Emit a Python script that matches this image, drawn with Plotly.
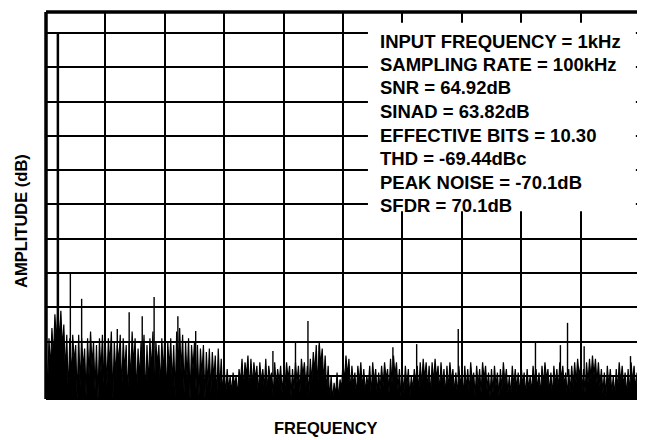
import plotly.graph_objects as go

# ---------------- data ----------------
bin_khz = 0.25            # spacing of noise bins along the frequency axis (kHz)

# noise-floor maxima per bin (dB), bins at 0, 0.25, 0.5 ... kHz
noise_tops = [
    -90, -89, -86, -82, -80, -81, -85, -88, -89, -88, -91, -88, -89, -92, -89, -87, -90, -91, -89, -88,
    -91, -89, -87, -90, -91, -88, -89, -91, -90, -87, -89, -92, -90, -88, -91, -89, -87, -90, -91, -89,
    -88, -90, -89, -91, -87, -86, -88, -90, -89, -91, -90, -91, -92, -91, -93, -92, -93, -94, -92, -95,
    -97, -98, -100, -99, -100, -98, -95, -96, -94, -95, -96, -97, -96, -98, -95, -97, -99, -96, -98, -97,
    -99, -96, -97, -98, -96, -97, -95, -96, -97, -95, -93, -91, -90, -92, -94, -97, -100, -102, -99, -101,
    -96, -94, -95, -97, -99, -97, -96, -98, -100, -97, -96, -98, -99, -97, -96, -98, -95, -94, -96, -98,
    -99, -97, -98, -100, -98, -97, -96, -95, -96, -97, -96, -95, -97, -96, -98, -97, -96, -98, -99, -97,
    -99, -97, -98, -96, -99, -97, -98, -96, -97, -99, -98, -97, -99, -98, -96, -98, -100, -97, -98, -99,
    -97, -99, -98, -100, -97, -98, -99, -97, -96, -98, -99, -97, -98, -96, -97, -99, -98, -97, -96, -95,
    -97, -98, -96, -95, -94, -95, -96, -98, -99, -97, -98, -100, -98, -96, -97, -99, -98, -96, -97, -99,
]

# noise-floor minima between bins (dB)
noise_troughs = [
    -106, -98, -95, -90, -90, -92, -99, -106, -101, -96, -107, -103, -98, -106, -100, -97, -104, -107, -99, -102,
    -103, -97, -107, -100, -96, -105, -99, -107, -102, -97, -106, -101, -98, -107, -103, -99, -106, -97, -104, -100,
    -107, -98, -103, -106, -97, -99, -105, -101, -107, -98, -104, -106, -100, -107, -103, -105, -101, -107, -104, -106,
    -106, -104, -105, -103, -106, -102, -104, -100, -105, -103, -101, -106, -102, -104, -105, -101, -106, -103, -102, -105,
    -103, -101, -106, -104, -102, -105, -100, -103, -106, -102, -99, -104, -97, -102, -105, -107, -107, -106, -107, -104,
    -102, -100, -105, -103, -106, -102, -104, -105, -103, -106, -102, -105, -104, -103, -101, -105, -102, -100, -104, -106,
    -105, -103, -106, -104, -102, -105, -103, -101, -104, -106, -102, -101, -105, -103, -106, -104, -102, -105, -106, -103,
    -106, -104, -105, -102, -106, -103, -105, -101, -104, -106, -105, -103, -106, -104, -102, -105, -106, -103, -104, -106,
    -103, -106, -104, -105, -102, -104, -106, -103, -101, -105, -106, -103, -104, -101, -103, -106, -105, -103, -102, -100,
    -104, -105, -102, -101, -100, -102, -103, -105, -106, -103, -105, -106, -104, -102, -103, -106, -105, -102, -104, -106,
]

# fundamental tone
fund_freq = 1.0
fund_level = 0.0

# harmonics / spurs (kHz, dB)
spur_freqs = [2.05, 3.0, 6.0, 7.0, 8.1, 9.1, 11.1, 12.6, 19.1, 21.0, 22.05, 23.0,
              29.2, 31.2, 34.7, 41.2, 43.3, 43.9, 45.3, 49.2]
spur_levels = [-70.1, -77.5, -86.3, -81.4, -82.6, -77.0, -82.6, -86.9, -92.7, -90.0, -84.0, -91.0,
               -91.6, -90.7, -86.3, -90.0, -91.0, -84.5, -91.3, -94.2]
spur_floor = -100.0

info_lines = [
    "INPUT FREQUENCY = 1kHz",
    "SAMPLING RATE = 100kHz",
    "SNR = 64.92dB",
    "SINAD = 63.82dB",
    "EFFECTIVE BITS = 10.30",
    "THD = -69.44dBc",
    "PEAK NOISE = -70.1dB",
    "SFDR = 70.1dB",
]

x_range = [0, 50]
y_range = [-106.7, 6.1]

# ---------------- figure ----------------
nx, ny = [], []
for k, (t, b) in enumerate(zip(noise_tops, noise_troughs)):
    nx += [k * bin_khz, k * bin_khz + bin_khz / 2]
    ny += [t, b]

fig = go.Figure()
fig.add_trace(go.Scatter(x=[x_range[0], x_range[1]], y=[-120, -120], mode="lines",
                         line=dict(color="black", width=0), hoverinfo="skip", showlegend=False))
fig.add_trace(go.Scatter(x=nx, y=ny, mode="lines", fill="tonexty", fillcolor="black",
                         line=dict(color="black", width=1.2), showlegend=False))

sx, sy = [], []
for f, lv in zip(spur_freqs, spur_levels):
    sx += [f, f, None]
    sy += [spur_floor, lv, None]
fig.add_trace(go.Scatter(x=sx, y=sy, mode="lines", line=dict(color="black", width=1.4),
                         showlegend=False))
fig.add_trace(go.Scatter(x=[fund_freq, fund_freq], y=[spur_floor, fund_level], mode="lines",
                         line=dict(color="black", width=2.5), showlegend=False))

FONT = "Liberation Sans, Arial, Helvetica, sans-serif"

fig.update_xaxes(range=x_range, dtick=5, tick0=0, showticklabels=False, ticks="",
                 showgrid=True, gridcolor="black", gridwidth=1.7, zeroline=False,
                 showline=False)
fig.update_yaxes(range=y_range, dtick=10, tick0=0, showticklabels=False, ticks="",
                 showgrid=True, gridcolor="black", gridwidth=1.7, zeroline=False,
                 showline=False)

shapes = [
    # white box behind the info text
    dict(type="rect", xref="paper", yref="paper", x0=0.542, x1=0.993, y0=0.485, y1=0.972,
         fillcolor="white", line=dict(width=0), layer="above"),
    # frame
    dict(type="line", xref="paper", yref="paper", x0=0, x1=0, y0=0, y1=1,
         line=dict(color="black", width=3.5), layer="above"),
    dict(type="line", xref="paper", yref="paper", x0=0, x1=1, y0=1, y1=1,
         line=dict(color="black", width=3.5), layer="above"),
    dict(type="line", xref="paper", yref="paper", x0=1, x1=1, y0=0, y1=1,
         line=dict(color="black", width=2.2), layer="above"),
    dict(type="line", xref="paper", yref="paper", x0=0, x1=1, y0=0, y1=0,
         line=dict(color="black", width=2.2), layer="above"),
]

# page layout: plot area spans page x 46..640, y 12..399 (page has an 8px body margin)
annotations = []
plot_left, plot_w = 46, 594
plot_top, plot_h = 12, 387
line_y = [41, 64.5, 88, 111.5, 135, 158.5, 182, 205.5]
for txt, py in zip(info_lines, line_y):
    annotations.append(dict(text=txt, xref="paper", yref="paper",
                            x=(378 - plot_left) / plot_w, y=1 - (py - plot_top) / plot_h,
                            xanchor="left", yanchor="middle", showarrow=False,
                            font=dict(family=FONT, size=18.5, color="black", weight="bold")))
annotations.append(dict(text="AMPLITUDE (dB)", xref="paper", yref="paper",
                        x=(21 - plot_left) / plot_w, y=1 - (221 - plot_top) / plot_h, textangle=-90,
                        xanchor="center", yanchor="middle", showarrow=False,
                        font=dict(family=FONT, size=16.5, color="black", weight="bold")))
annotations.append(dict(text="FREQUENCY", xref="paper", yref="paper",
                        x=(326 - plot_left) / plot_w, y=1 - (428 - plot_top) / plot_h,
                        xanchor="center", yanchor="middle", showarrow=False,
                        font=dict(family=FONT, size=16.5, color="black", weight="bold")))

fig.update_layout(width=637, height=432, margin=dict(l=38, r=5, t=4, b=41),
                  plot_bgcolor="white", paper_bgcolor="white",
                  shapes=shapes, annotations=annotations, showlegend=False)

fig.write_html("out.html")
